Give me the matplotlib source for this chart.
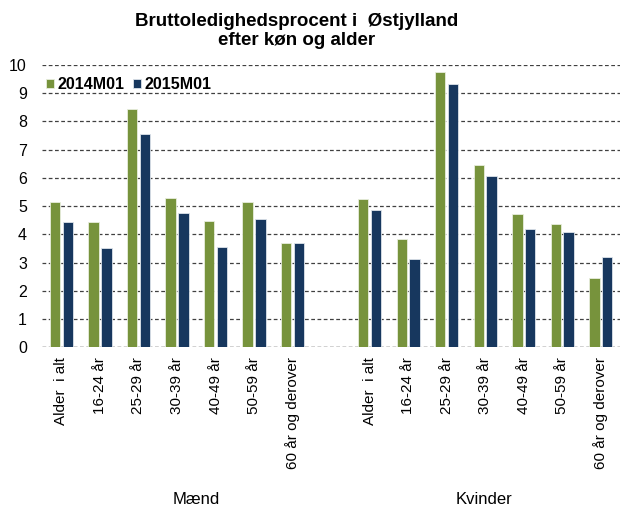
import matplotlib.pyplot as plt
import numpy as np

plt.rcParams['font.family'] = ['Liberation Sans', 'DejaVu Sans']

ages = ['Alder  i alt', '16-24 år', '25-29 år', '30-39 år', '40-49 år', '50-59 år', '60 år og derover']
groups = ['Mænd', 'Kvinder']
series = ['2014M01', '2015M01']

maend_2014 = [5.13, 4.44, 8.45, 5.28, 4.46, 5.16, 3.68]
maend_2015 = [4.44, 3.53, 7.57, 4.77, 3.56, 4.55, 3.68]
kvinder_2014 = [5.24, 3.82, 9.76, 6.45, 4.73, 4.38, 2.44]
kvinder_2015 = [4.85, 3.14, 9.34, 6.05, 4.19, 4.08, 3.21]

green = '#77933C'
navy = '#17375E'

# men at slots 0..6, an empty slot 7, women at 8..14
x_m = np.arange(len(ages))
x_k = np.arange(len(ages)) + len(ages) + 1
x_all = np.concatenate([x_m, x_k])
v2014 = maend_2014 + kvinder_2014
v2015 = maend_2015 + kvinder_2015

fig = plt.figure(figsize=(6.2, 5.12), dpi=100)
ax = fig.add_axes([0.068, 0.322, 0.932, 0.551])

w = 0.27
off = 0.165
ax.bar(x_all - off, v2014, w, color=green, edgecolor='#e8eedd', linewidth=0.6, label=series[0], zorder=3)
ax.bar(x_all + off, v2015, w, color=navy, edgecolor='#dde3ea', linewidth=0.6, label=series[1], zorder=3)

ax.set_xlim(-0.5, 14.5)
ax.set_ylim(0, 10)
ax.set_yticks(range(0, 11))
ax.yaxis.grid(True, linestyle=(0, (3, 2)), color='#404040', linewidth=0.9, zorder=0)
ax.set_axisbelow(True)
ax.axhline(0, linestyle=(0, (3, 2)), color='#404040', linewidth=0.9, zorder=0)
for s in ax.spines.values():
    s.set_visible(False)
ax.tick_params(axis='both', length=0, colors='black')
ax.tick_params(axis='y', labelsize=11.5, pad=11)
ax.tick_params(axis='x', labelsize=11, pad=7)

ax.set_xticks(x_all)
ax.set_xticklabels(ages + ages, rotation=90, va='top', ha='center')

fig.text(196 / 620, 1 - 500 / 512, groups[0], ha='center', va='center', fontsize=12)
fig.text(484 / 620, 1 - 500 / 512, groups[1], ha='center', va='center', fontsize=12)

fig.text(0.478, 1 - 31 / 512, 'Bruttoledighedsprocent i  Østjylland\nefter køn og alder',
         ha='center', va='center', fontsize=13.5, fontweight='bold', linespacing=1.2)

leg = ax.legend(loc='upper left', bbox_to_anchor=(-0.01, 0.99), ncol=2, frameon=False,
                handlelength=0.5, handleheight=0.5, handletextpad=0.25, columnspacing=0.5,
                prop={'weight': 'bold', 'size': 11.5}, borderaxespad=0.2)

fig.savefig('out.png', dpi=100)
